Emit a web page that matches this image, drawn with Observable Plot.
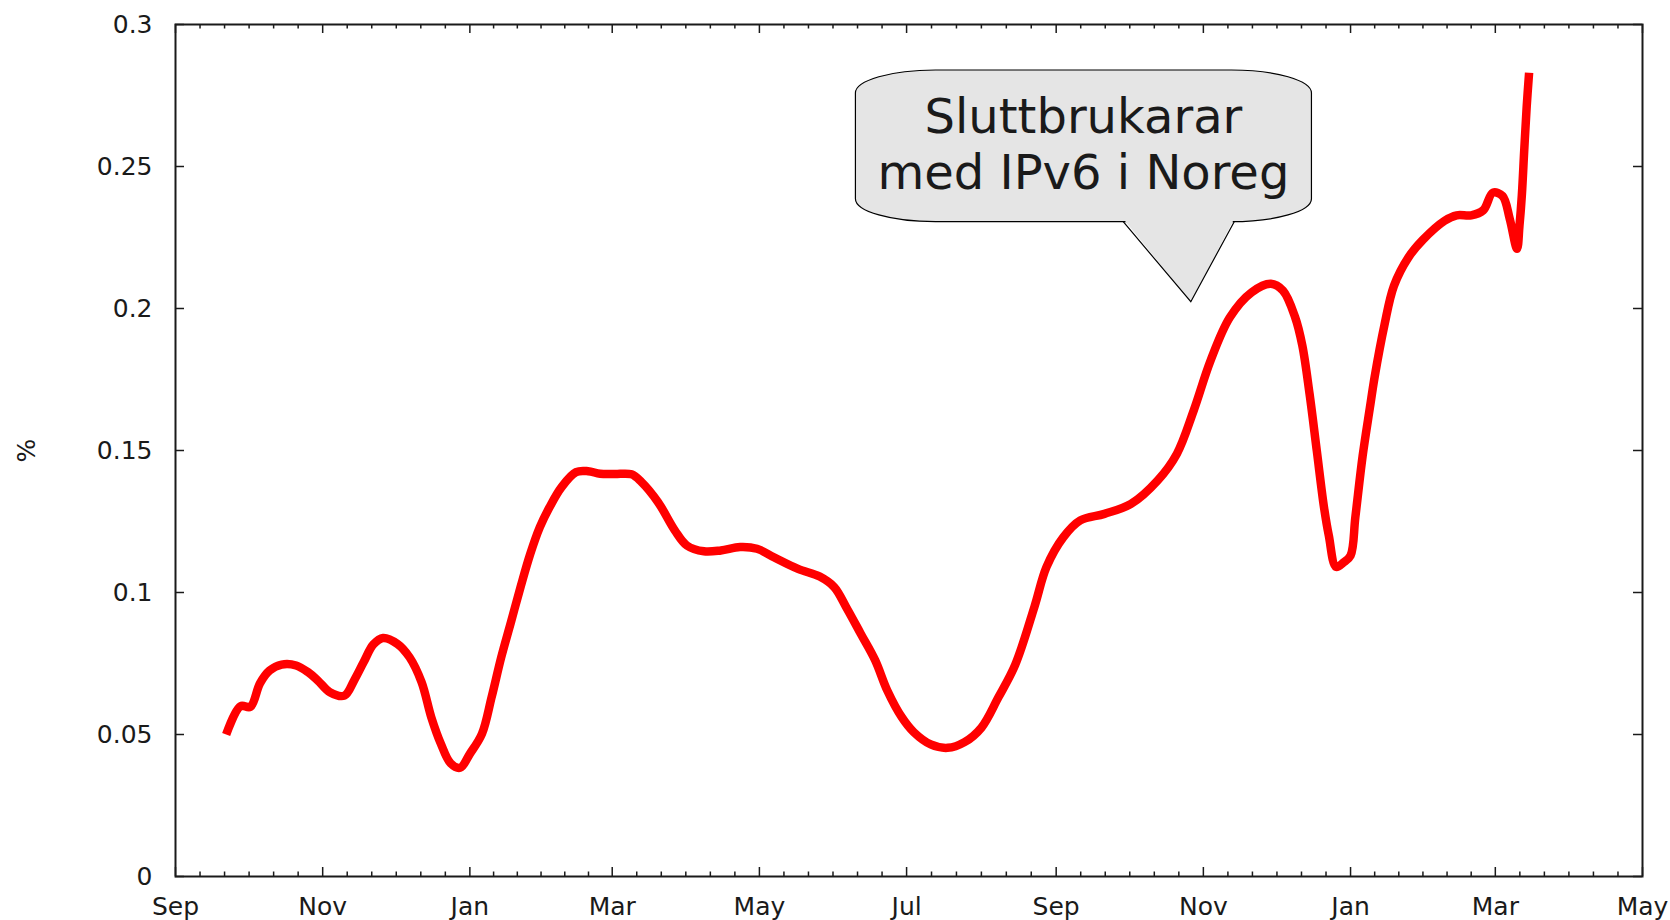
<!DOCTYPE html>
<html><head><meta charset="utf-8">
<script src="https://cdn.jsdelivr.net/npm/d3@7"></script>
<script src="https://cdn.jsdelivr.net/npm/@observablehq/plot@0.6"></script>
<style>html,body{margin:0;padding:0;background:#fff;} #chart svg{display:block}</style>
</head><body><div id="chart"></div>
<script>
// ---- data ----
const dates = [
"2010-09-22","2010-09-28","2010-10-02","2010-10-06","2010-10-10","2010-10-15","2010-10-21","2010-10-26","2010-10-30",
"2010-11-04","2010-11-10","2010-11-14","2010-11-18","2010-11-22","2010-11-26","2010-12-02","2010-12-07","2010-12-12",
"2010-12-16","2010-12-20","2010-12-24","2010-12-28","2011-01-01","2011-01-06","2011-01-10","2011-01-14","2011-01-18",
"2011-01-22","2011-01-26","2011-01-30","2011-02-03","2011-02-08","2011-02-14","2011-02-19","2011-02-24","2011-03-02",
"2011-03-09","2011-03-13","2011-03-20","2011-03-27","2011-04-01","2011-04-08","2011-04-15","2011-04-23","2011-04-30",
"2011-05-07","2011-05-17","2011-05-26","2011-06-01","2011-06-06","2011-06-12","2011-06-18","2011-06-23","2011-06-29",
"2011-07-04","2011-07-11","2011-07-18","2011-07-25","2011-08-01","2011-08-08","2011-08-15","2011-08-23","2011-08-28",
"2011-09-04","2011-09-11","2011-09-21","2011-10-02","2011-10-13","2011-10-21","2011-10-28","2011-11-04","2011-11-12",
"2011-11-21","2011-11-29","2011-12-04","2011-12-09","2011-12-12","2011-12-15","2011-12-18","2011-12-21","2011-12-23",
"2011-12-26","2011-12-29","2012-01-01","2012-01-03","2012-01-06","2012-01-09","2012-01-11","2012-01-15","2012-01-19",
"2012-01-25","2012-01-31","2012-02-09","2012-02-14","2012-02-20","2012-02-25","2012-02-29","2012-03-04","2012-03-07",
"2012-03-10","2012-03-11","2012-03-12","2012-03-13","2012-03-14","2012-03-15"
];
const values = [
0.0500,0.0600,0.0597,0.0680,0.0725,0.0746,0.0743,0.0719,0.0690,
0.0649,0.0637,0.0690,0.0755,0.0817,0.0840,0.0819,0.0772,0.0684,
0.0561,0.0467,0.0399,0.0383,0.0432,0.0502,0.0631,0.0772,0.0895,
0.1019,0.1135,0.1230,0.1300,0.1371,0.1424,0.1427,0.1418,0.1417,
0.1416,0.1390,0.1318,0.1218,0.1165,0.1145,0.1148,0.1160,0.1154,
0.1124,0.1083,0.1056,0.1019,0.0948,0.0855,0.0761,0.0655,0.0561,
0.0508,0.0465,0.0453,0.0473,0.0524,0.0630,0.0745,0.0950,0.1090,
0.1195,0.1254,0.1277,0.1312,0.1394,0.1488,0.1641,0.1817,0.1969,
0.2057,0.2087,0.2063,0.1970,0.1870,0.1700,0.1500,0.1300,0.1200,
0.1090,0.1105,0.1130,0.1266,0.1480,0.1650,0.1760,0.1940,0.2080,
0.2180,0.2242,0.2309,0.2328,0.2328,0.2346,0.2408,0.2396,0.2315,
0.2210,0.2290,0.2400,0.2560,0.2710,0.2830
];
const xTicks = ["2010-09-01","2010-11-01","2011-01-01","2011-03-01","2011-05-01","2011-07-01",
                "2011-09-01","2011-11-01","2012-01-01","2012-03-01","2012-05-01"];
const xTickLabels = ["Sep","Nov","Jan","Mar","May","Jul","Sep","Nov","Jan","Mar","May"];
const yTicks = [0, 0.05, 0.1, 0.15, 0.2, 0.25, 0.3];
const yTickLabels = ["0","0.05","0.1","0.15","0.2","0.25","0.3"];
const yLabel = "%";
const calloutLines = ["Sluttbrukarar", "med IPv6 i Noreg"];
const calloutTip = {date: "2011-10-27", value: 0.2022};
const calloutBox = {from: "2011-06-10", to: "2011-12-16", top: 0.2838, bottom: 0.2304};
const calloutTail = {from: "2011-09-29", to: "2011-11-14"};

// ---- build ----
const table = dates.map((d, i) => ({date: new Date(d), value: values[i]}));
const major = xTicks.map(d => new Date(d));
const minor = [];
for (let i = 0; i < major.length - 1; i++) {
  const a = +major[i], b = +major[i + 1];
  for (let k = 1; k < 6; k++) minor.push(new Date(a + (b - a) * k / 6));
}
const xLabelMap = new Map(major.map((d, i) => [+d, xTickLabels[i]]));
const yLabelMap = new Map(yTicks.map((v, i) => [v, yTickLabels[i]]));

const W = 1670, H = 920, mL = 175, mT = 24, mR = 28, mB = 44;
const plotW = W - mL - mR, plotH = H - mT - mB;
const ink = "#1a1a1a";
const font = "'DejaVu Sans', sans-serif";

function callout(index, scales) {
  const x = scales.x, y = scales.y;
  const L = x(new Date(calloutBox.from)), R = x(new Date(calloutBox.to));
  const T = y(calloutBox.top), B = y(calloutBox.bottom);
  const tx = x(new Date(calloutTip.date)), ty = y(calloutTip.value);
  const a = x(new Date(calloutTail.from)), b = x(new Date(calloutTail.to));
  const rx = 80, ry = 23;
  const g = d3.create("svg:g");
  g.append("path")
    .attr("d", `M${L+rx},${T}H${R-rx}A${rx},${ry} 0 0 1 ${R},${T+ry}V${B-ry}A${rx},${ry} 0 0 1 ${R-rx},${B}H${L+rx}A${rx},${ry} 0 0 1 ${L},${B-ry}V${T+ry}A${rx},${ry} 0 0 1 ${L+rx},${T}Z`)
    .attr("fill", "#e5e5e5").attr("stroke", "#000").attr("stroke-width", 1.2);
  g.append("path")
    .attr("d", `M${a},${B-3}L${tx},${ty}L${b},${B-3}Z`)
    .attr("fill", "#e5e5e5");
  g.append("path")
    .attr("d", `M${a},${B}L${tx},${ty}L${b},${B}`)
    .attr("fill", "none").attr("stroke", "#000").attr("stroke-width", 1.2);
  const cx = (L + R) / 2, mid = (T + B) / 2;
  const t = g.append("text").attr("text-anchor", "middle").attr("font-family", font)
    .attr("font-size", 48).attr("fill", ink);
  t.append("tspan").attr("x", cx).attr("y", mid - 13).text(calloutLines[0]);
  t.append("tspan").attr("x", cx).attr("y", mid + 43).text(calloutLines[1]);
  return g.node();
}

const chart = Plot.plot({
  width: W, height: H,
  marginLeft: mL, marginRight: mR, marginTop: mT, marginBottom: mB,
  style: {fontFamily: font, fontSize: "25px", color: ink, background: "#fff"},
  x: {type: "utc", domain: [major[0], major[major.length - 1]], ticks: major,
      tickFormat: d => xLabelMap.get(+d), tickSize: 0, tickPadding: 21, label: null},
  y: {domain: [0, 0.3], ticks: yTicks, tickFormat: d => yLabelMap.get(d),
      tickSize: 0, tickPadding: 23, label: null},
  marks: [
    Plot.ruleX(minor, {stroke: ink, strokeWidth: 1.5, insetTop: plotH - 4.5}),
    Plot.ruleX(minor, {stroke: ink, strokeWidth: 1.5, insetBottom: plotH - 4.5}),
    Plot.ruleX(major, {stroke: ink, strokeWidth: 1.5, insetTop: plotH - 9}),
    Plot.ruleX(major, {stroke: ink, strokeWidth: 1.5, insetBottom: plotH - 9}),
    Plot.ruleY(yTicks, {stroke: ink, strokeWidth: 1.5, insetRight: plotW - 9}),
    Plot.ruleY(yTicks, {stroke: ink, strokeWidth: 1.5, insetLeft: plotW - 9}),
    Plot.frame({stroke: ink, strokeWidth: 2}),
    Plot.line(table, {x: "date", y: "value", stroke: "#ff0000", strokeWidth: 8.5,
      curve: "catmull-rom", strokeLinejoin: "round", strokeLinecap: "butt"}),
    Plot.text([yLabel], {text: d => d, frameAnchor: "left", dx: -149, rotate: -90,
      textAnchor: "middle", fontSize: 25, fill: ink}),
    callout
  ]
});
document.getElementById("chart").appendChild(chart);
</script>
</body></html>
